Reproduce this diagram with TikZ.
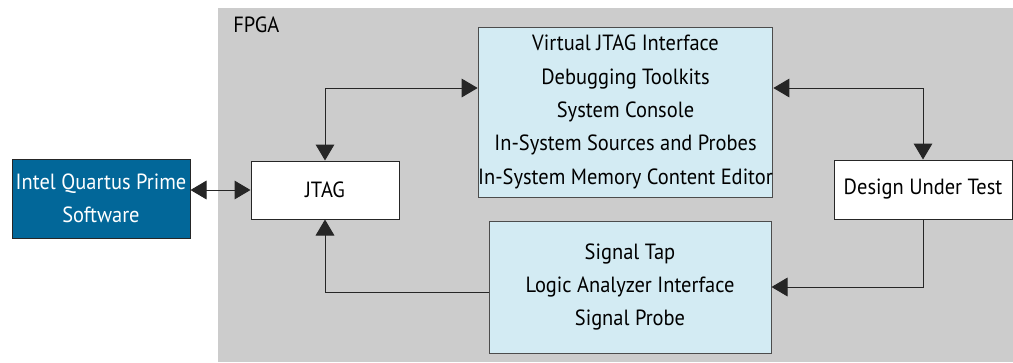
\documentclass[tikz,border=0pt]{standalone}
\usepackage{fontspec}
\setmainfont[FakeStretch=0.93]{PT Sans}
\usetikzlibrary{positioning, arrows.meta, calc}

\begin{document}
\begin{tikzpicture}[
    x=0.75pt, y=-0.75pt,
    font=\fontsize{16.5}{25}\selectfont,
    >={Triangle[length=12pt, width=14pt]},
    % --- Styles ---
    hostbox/.style={draw=black!85, fill=hostBlue, text=white, line width=0.75pt, align=center, inner sep=0pt},
    plainbox/.style={draw=black!85, fill=white, line width=0.75pt, align=center, inner sep=0pt},
    toolbox/.style={draw=black!70, fill=toolBlue, line width=0.75pt, align=center, inner sep=0pt},
    link/.style={draw=black!85, line width=0.75pt}
]

    % --- Colors ---
    \definecolor{hostBlue}{RGB}{2,103,153}   % Quartus host box
    \definecolor{toolBlue}{RGB}{211,235,243} % debug tool boxes
    \definecolor{fpgaGrey}{RGB}{204,204,204} % FPGA area

    \useasboundingbox (0,0) rectangle (1013,362);

    % ==========================
    % 1. FPGA AREA
    % ==========================
    \fill[fpgaGrey] (218,8) rectangle (1013,362);
    \node[anchor=north west, inner sep=0pt] (fpga) at (233,17) {FPGA};

    % ==========================
    % 2. HOST + JTAG
    % ==========================
    \node[hostbox, minimum width=133.5pt, minimum height=59.25pt] (quartus) at (101,198.5) {Intel Quartus Prime\\Software};
    \node[plainbox, minimum width=111pt, minimum height=43.5pt] (jtag) at (325,190) {JTAG};

    % ==========================
    % 3. DEBUG TOOLS
    % ==========================
    \node[toolbox, minimum width=219.75pt, minimum height=127.5pt] (vjtag) at (625.5,112)
        {Virtual JTAG Interface\\Debugging Toolkits\\System Console\\In-System Sources and Probes\\In-System Memory Content Editor};
    \node[toolbox, minimum width=211.5pt, minimum height=99pt] (stap) at (630,287)
        {Signal Tap\\Logic Analyzer Interface\\Signal Probe};

    % ==========================
    % 4. DESIGN UNDER TEST
    % ==========================
    \node[plainbox, minimum width=133.5pt, minimum height=44.25pt] (dut) at (923,189.5) {Design Under Test};

    % ==========================
    % 5. CONNECTIONS
    % ==========================
    \coordinate (bus) at (0,88);

    \draw[link, <->] (jtag.west -| quartus.east) -- (jtag.west);
    \draw[link, <->] (jtag.north) |- (vjtag.west |- bus);
    \draw[link, <->] (vjtag.east |- bus) -| (dut.north);
    \draw[link, ->] (dut.south) |- (stap.east);
    \draw[link, ->] ([yshift=-3.75pt]stap.west) -| (jtag.south);

\end{tikzpicture}
\end{document}
